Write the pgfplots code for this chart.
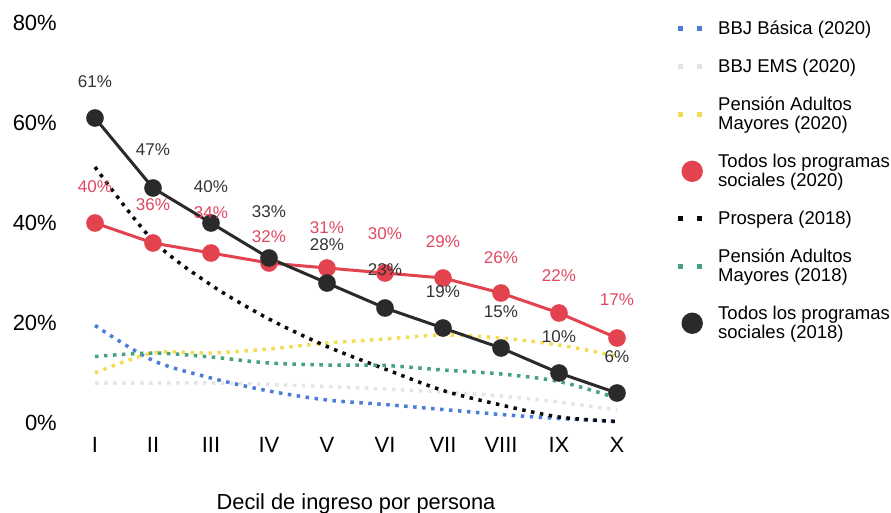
\documentclass[border=0pt]{standalone}
\usepackage{pgfplots}
\pgfplotsset{compat=1.18}
\usepackage{pgfplotstable}
\usepackage{fontspec}
\setmainfont{Liberation Sans}

\definecolor{bbjblue}{HTML}{4A7DD8}
\definecolor{emsgrey}{HTML}{E4E4E4}
\definecolor{pamyellow}{HTML}{F3DC52}
\definecolor{todosred}{HTML}{E3434F}
\definecolor{labelred}{HTML}{E04862}
\definecolor{prosblack}{HTML}{0A0A0A}
\definecolor{pamgreen}{HTML}{46A27A}
\definecolor{todosblack}{HTML}{2A2A2A}
\definecolor{labelgrey}{HTML}{333333}

% Share of households receiving each programme, by income decile (0 = I ... 9 = X)
\pgfplotstableread{
x y
0 19.5
1 12.5
2 9.0
3 6.4
4 4.6
5 3.7
6 2.7
7 1.7
8 0.9
9 0.3
}\bbjbasica

\pgfplotstableread{
x y
0 8.0
1 8.0
2 8.0
3 7.7
4 7.3
5 6.8
6 6.2
7 5.4
8 4.2
9 2.6
}\bbjems

\pgfplotstableread{
x y
0 10.0
1 14.0
2 14.0
3 14.8
4 16.0
5 16.8
6 17.6
7 17.0
8 15.6
9 13.4
}\pamveinte

% dy: height of the value label above its point
\pgfplotstableread{
x y  dy
0 40 36
1 36 38
2 34 40
3 32 26
4 31 40
5 30 39
6 29 36
7 26 35
8 22 37
9 17 38
}\todosveinte

\pgfplotstableread{
x y
0 51.2
1 36.5
2 27.6
3 20.8
4 15.3
5 10.8
6 6.5
7 3.6
8 1.2
9 0.3
}\prospera

\pgfplotstableread{
x y
0 13.3
1 14.0
2 13.2
3 12.0
4 11.6
5 11.5
6 10.6
7 9.8
8 8.3
9 5.0
}\pamdieciocho

\pgfplotstableread{
x y  dy
0 61 36
1 47 38
2 40 36
3 33 46
4 28 38
5 23 38
6 19 36
7 15 36
8 10 36
9  6 36
}\todosdieciocho

\pgfplotsset{
  dotline/.style={line width=3.5pt, dash pattern=on 3.5pt off 5.5pt,
    smooth, tension=0.5, mark=none, forget plot},
  totalline/.style={line width=3pt, mark=*, mark size=7.3pt,
    mark options={solid, draw=none, fill=#1}, draw=#1, forget plot},
  valuelabels/.style={draw=none, mark=none, forget plot,
    point meta=explicit,
    nodes near coords={\pgfmathprintnumber{\pgfplotspointmeta}\%},
    visualization depends on={\thisrow{dy}\as\labeldy},
    every node near coord/.append style={anchor=center, yshift=\labeldy pt,
      inner sep=0pt, text=#1, font=\fontsize{17}{19}\selectfont}},
}
% legend keys: a pair of small squares, or one large dot
\newcommand\squarekey[1]{\addlegendimage{/pgfplots/legend image code/.code={%
  \path[draw=none, fill=none] (-3pt,0pt) -- (23pt,0pt);
  \fill[#1, draw=none] (-2.5pt,-2.5pt) rectangle (2.5pt,2.5pt);
  \fill[#1, draw=none] (16.5pt,-2.5pt) rectangle (21.5pt,2.5pt);}}}
\newcommand\dotkey[1]{\addlegendimage{/pgfplots/legend image code/.code={%
  \path[draw=none, fill=none] (-3pt,0pt) -- (23pt,0pt);
  \fill[#1, draw=none] (12pt,0pt) circle (10.7pt);}}}

\begin{document}
\begin{tikzpicture}
% page frame: the axis box sits with its lower left corner at the origin
\path[use as bounding box] (-66pt,-89pt) rectangle (825pt,423pt);
\begin{axis}[
  scale only axis, width=580pt, height=400pt,
  xmin=-0.5, xmax=9.5, ymin=0, ymax=80,
  clip=false,
  axis line style={draw=none},
  major tick length=0pt,
  xtick={0,...,9},
  xticklabels={I,II,III,IV,V,VI,VII,VIII,IX,X},
  ytick={0,20,40,60,80},
  yticklabel={\pgfmathprintnumber{\tick}\%},
  /pgf/number format/assume math mode=true,
  tick label style={font=\fontsize{22}{25}\selectfont, black},
  yticklabel style={anchor=east, inner sep=0pt, xshift=-9pt},
  xticklabel style={anchor=north, inner sep=0pt, yshift=-14.5pt},
  xlabel={Decil de ingreso por persona},
  xlabel style={at={(axis description cs:0.5,0)}, anchor=base,
    yshift=-86pt, inner sep=0pt, font=\fontsize{21.8}{24}\selectfont},
  legend style={at={(rel axis cs:1,1)}, anchor=north west,
    xshift=28pt, yshift=6pt, draw=none, fill=none,
    font=\fontsize{18.5}{19}\selectfont, row sep=19pt, column sep=13pt,
    cells={align=left, anchor=west}},
  legend cell align=left,
]
% lines
\addplot[dotline, bbjblue] table[x=x, y=y] {\bbjbasica};
\addplot[dotline, emsgrey] table[x=x, y=y] {\bbjems};
\addplot[dotline, pamyellow] table[x=x, y=y] {\pamveinte};
\addplot[dotline, prosblack] table[x=x, y=y] {\prospera};
\addplot[dotline, pamgreen] table[x=x, y=y] {\pamdieciocho};
\addplot[totalline=todosred] table[x=x, y=y] {\todosveinte};
\addplot[totalline=todosblack] table[x=x, y=y] {\todosdieciocho};
% value labels on top of every line
\addplot[valuelabels=labelred] table[x=x, y=y, meta=y] {\todosveinte};
\addplot[valuelabels=labelgrey] table[x=x, y=y, meta=y] {\todosdieciocho};
% legend
\squarekey{bbjblue}
\addlegendentry{BBJ Básica (2020)}
\squarekey{emsgrey}
\addlegendentry{BBJ EMS (2020)}
\squarekey{pamyellow}
\addlegendentry{Pensión Adultos\\Mayores (2020)}
\dotkey{todosred}
\addlegendentry{Todos los programas\\sociales (2020)}
\squarekey{prosblack}
\addlegendentry{Prospera (2018)}
\squarekey{pamgreen}
\addlegendentry{Pensión Adultos\\Mayores (2018)}
\dotkey{todosblack}
\addlegendentry{Todos los programas\\sociales (2018)}
\end{axis}
\end{tikzpicture}
\end{document}
